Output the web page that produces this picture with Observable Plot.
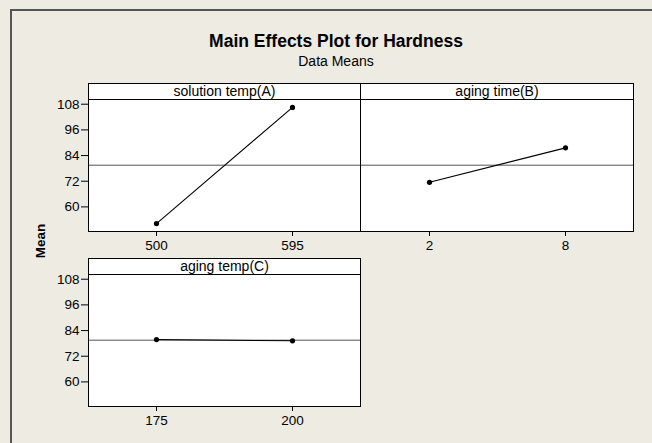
<!DOCTYPE html>
<html>
<head>
<meta charset="utf-8">
<script src="https://cdn.jsdelivr.net/npm/d3@7"></script>
<script src="https://cdn.jsdelivr.net/npm/@observablehq/plot@0.6"></script>
<style>
  html, body { margin: 0; padding: 0; background: #EEEBE2; overflow: hidden; }
  #root { position: relative; width: 652px; height: 443px; overflow: hidden; background: #EEEBE2;
          font-family: "Liberation Sans", Arial, sans-serif; color: #000; }
  .vline { position: absolute; left: 10px; top: 9px; width: 2px; height: 434px; background: #555; }
  .hline { position: absolute; left: 10px; top: 9px; width: 642px; height: 2px; background: #555; }
  .title { position: absolute; left: 0; width: 672px; top: 31px; text-align: center;
           font-weight: bold; font-size: 17.5px; }
  .subtitle { position: absolute; left: 0; width: 672px; top: 53px; text-align: center; font-size: 14px; }
  .ylab { position: absolute; left: 40px; top: 241px; transform: translate(-50%, -50%) rotate(-90deg);
          font-weight: bold; font-size: 13.5px; white-space: nowrap; }
  .strip { position: absolute; box-sizing: border-box; border: 1px solid #000; background: #fff;
           height: 17px; text-align: center; font-size: 14px; line-height: 15px; white-space: nowrap; }
  .pane { position: absolute; }
</style>
</head>
<body>
<div id="root">
  <div class="vline"></div>
  <div class="hline"></div>
  <div class="title">Main Effects Plot for Hardness</div>
  <div class="subtitle">Data Means</div>
  <div class="ylab">Mean</div>
</div>
<script>
const factorNames = ["solution temp(A)", "aging time(B)", "aging temp(C)"];
const levelsA = [500, 595];
const meansA = [52.2, 106.5];
const levelsB = [2, 8];
const meansB = [71.5, 87.6];
const levelsC = [175, 200];
const meansC = [79.8, 79.2];
const grandMean = 79.5;
const yTicks = [60, 72, 84, 96, 108];

const root = document.getElementById("root");

function panel(levels, means, showY, width, marginLeft) {
  const data = levels.map((l, i) => ({level: String(l), mean: means[i]}));
  return Plot.plot({
    width, height: 156,
    marginTop: 1, marginBottom: 23, marginLeft, marginRight: 1,
    style: {background: "transparent", fontFamily: "'Liberation Sans', Arial, sans-serif", fontSize: "13.5px", color: "black", overflow: "visible"},
    x: {type: "point", domain: levels.map(String), padding: 0.5, label: null},
    y: {domain: [48.5, 110.2], label: null, axis: showY ? undefined : null},
    marks: [
      Plot.frame({fill: "white", stroke: null}),
      Plot.ruleY([grandMean], {stroke: "#555", strokeWidth: 1}),
      Plot.line(data, {x: "level", y: "mean", stroke: "black", strokeWidth: 1.1}),
      Plot.dot(data, {x: "level", y: "mean", fill: "black", stroke: null, r: 2.6}),
      Plot.axisX({tickSize: 5, tickPadding: 4, label: null, fontSize: 13.5}),
      showY ? Plot.axisY({ticks: yTicks, tickSize: 7, tickPadding: 2, label: null, fontSize: 13.5}) : null,
      Plot.frame({stroke: "black"})
    ]
  });
}

function place(el, left, top) {
  el.classList.add("pane");
  el.style.left = left + "px";
  el.style.top = top + "px";
  root.appendChild(el);
}
function strip(text, left, top, width) {
  const d = document.createElement("div");
  d.className = "strip";
  d.textContent = text;
  d.style.left = left + "px";
  d.style.top = top + "px";
  d.style.width = width + "px";
  root.appendChild(d);
}

place(panel(levelsA, meansA, true, 321, 48), 40, 98);
place(panel(levelsB, meansB, false, 275, 1), 359, 98);
place(panel(levelsC, meansC, true, 321, 48), 40, 273);

strip(factorNames[0], 88, 83, 273);
strip(factorNames[1], 360, 83, 274);
strip(factorNames[2], 88, 258, 273);
</script>
</body>
</html>
